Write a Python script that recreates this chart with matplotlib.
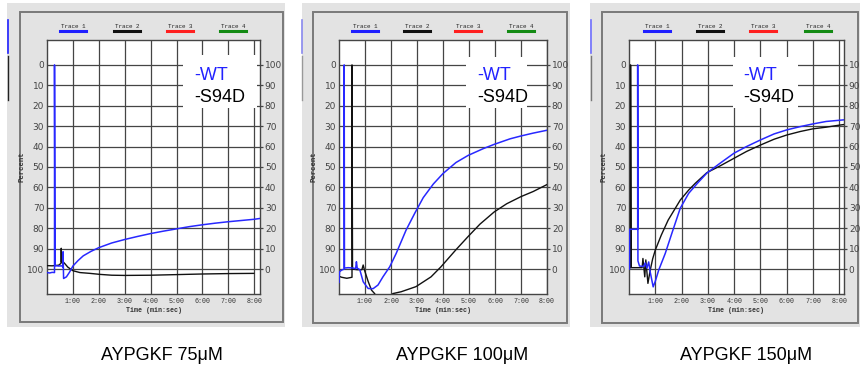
import matplotlib
matplotlib.use("Agg")
import matplotlib.pyplot as plt
from matplotlib.patches import Rectangle
from matplotlib.lines import Line2D

W, H = 860, 369

# ---- data (time in min, left axis Percent) ----
titles = ["AYPGKF 75\u03bcM", "AYPGKF 100\u03bcM", "AYPGKF 150\u03bcM"]
series_names = ["-WT", "-S94D"]
trace_names = ["Trace 1", "Trace 2", "Trace 3", "Trace 4"]
trace_colors = ["#2020ff", "#111111", "#ff2020", "#138a13"]
x_ticks = [1, 2, 3, 4, 5, 6, 7, 8]
x_tick_labels = ["1:00", "2:00", "3:00", "4:00", "5:00", "6:00", "7:00", "8:00"]
y_ticks = [0, 10, 20, 30, 40, 50, 60, 70, 80, 90, 100]

wt_75_t = [0, 0.1, 0.2, 0.29, 0.29, 0.31, 0.45, 0.58, 0.61, 0.62, 0.64, 0.75, 0.87,
           1.0, 1.2, 1.4, 1.7, 2.0, 2.5, 3.0, 3.5, 4.0, 4.5, 5.0, 5.5, 6.0, 6.5,
           7.0, 7.5, 8.0, 8.22]
wt_75_v = [101.7, 101.9, 101.6, 101.7, 0, 98.3, 98.5, 98.4, 99, 91.5, 104.6, 103.8, 101.5,
           98.5, 95.8, 93.5, 91.3, 89.5, 87.2, 85.5, 84, 82.6, 81.4, 80.3, 79.2, 78.3, 77.5,
           76.8, 76.2, 75.6, 75.2]
s94d_75_t = [0, 0.2, 0.45, 0.54, 0.55, 0.56, 0.62, 0.7, 0.8, 1.0, 1.27, 1.66, 2.05, 2.5,
             3.0, 4.0, 5.0, 6.0, 7.0, 7.98]
s94d_75_v = [98.3, 98.4, 98.1, 97.2, 89.8, 96.5, 96.4, 97.5, 99, 100.8, 101.7, 102.1, 102.6,
             103, 103.1, 103, 102.7, 102.4, 102.2, 102.1]

wt_100_t = [0, 0.02, 0.1, 0.2, 0.2, 0.21, 0.35, 0.55, 0.64, 0.67, 0.7, 0.8, 0.93, 1.12,
            1.31, 1.5, 1.69, 1.95, 2.2, 2.39, 2.58, 2.92, 3.24, 3.63, 4.0, 4.5, 4.97,
            5.55, 5.97, 6.58, 7.0, 7.47, 8.0]
wt_100_v = [106.5, 101.3, 100.5, 100, 0, 99.5, 99.3, 99.5, 99.8, 96.4, 99.5, 100.3, 106.2, 109.5,
            109.6, 107.8, 103.8, 98.9, 92.3, 86.6, 80.9, 72.5, 65, 58.3, 53.2, 47.8, 44.3,
            41, 38.9, 36.2, 34.8, 33.4, 32]
s94d_100_t = [0, 0.1, 0.3, 0.5, 0.5, 0.52, 0.7, 0.88, 0.93, 0.98, 1.12, 1.25, 1.37, 1.45,
              2.0, 2.07, 2.39, 2.96, 3.54, 3.92, 4.5, 4.97, 5.42, 5.97, 6.45, 7.0, 7.47, 8.0]
s94d_100_v = [103.5, 104, 104.5, 104, 0, 100, 100.3, 100.3, 98, 100.5, 106, 110.3, 112, 114,
              114, 112, 111.1, 108.6, 103.8, 98.9, 90.5, 84, 78, 72, 68, 64.5, 62, 58.6]

wt_150_t = [0, 0.02, 0.02, 0.33, 0.33, 0.34, 0.4, 0.55, 0.62, 0.68, 0.75, 0.8, 0.92, 1.0,
            1.13, 1.38, 1.63, 1.95, 2.27, 2.6, 2.96, 3.46, 4.0, 4.47, 5.01, 5.52, 6.01,
            6.52, 7.0, 7.5, 8.18]
wt_150_v = [100, 100, 80.5, 80.5, 0, 96, 98.5, 98.7, 97, 99.5, 96.5, 101, 108.7, 106,
            100.5, 92.3, 82.5, 70.2, 62.9, 58, 53, 48.2, 43.2, 40, 36.7, 33.8, 31.8,
            30.2, 28.9, 27.7, 26.9]
s94d_150_t = [0, 0.06, 0.06, 0.08, 0.5, 0.53, 0.6, 0.64, 0.72, 0.8, 0.9, 1.0, 1.23, 1.49,
              1.95, 2.27, 2.52, 2.96, 3.46, 4.0, 4.47, 5.01, 5.52, 6.01, 6.52, 7.0, 7.5,
              8.0, 8.18]
s94d_150_v = [99.3, 99.3, 0, 99.3, 99.3, 94.8, 103.8, 95.5, 107, 101, 95, 90.7, 83.3, 76,
              66.2, 61.3, 58, 52.8, 49.5, 45.7, 42.4, 39.2, 36.4, 34.3, 32.6, 31.3, 30.5,
              29.5, 29.2]

# ---- layout in pixels (left, top, right, bottom) ----
panels = [
    dict(bg=(7, 3, 285, 327), frame=(20, 12, 283, 322), ax=(47, 40, 260, 294), xmax=8.22,
         box=(183, 55, 257, 108), txt_x=194, legend_x=[73, 127, 180, 233], title_x=162,
         wt=(wt_75_t, wt_75_v), s94d=(s94d_75_t, s94d_75_v)),
    dict(bg=(302, 3, 570, 327), frame=(313, 12, 567, 323), ax=(339, 40, 547, 294), xmax=8.0,
         box=(466, 57, 527, 108), txt_x=477, legend_x=[365, 417, 468, 521], title_x=462,
         wt=(wt_100_t, wt_100_v), s94d=(s94d_100_t, s94d_100_v)),
    dict(bg=(590, 3, 860, 327), frame=(602, 12, 858, 323), ax=(629, 40, 844, 294), xmax=8.18,
         box=(733, 57, 798, 108), txt_x=743, legend_x=[657, 710, 763, 818], title_x=746,
         wt=(wt_150_t, wt_150_v), s94d=(s94d_150_t, s94d_150_v)),
]

GRID = "#454545"
MONO = "Liberation Mono"


def fx(x):
    return x / W


def fy(y):
    return 1 - y / H


def px_rect(box, **kw):
    x0, y0, x1, y1 = box
    return Rectangle((fx(x0), fy(y1)), fx(x1 - x0), (y1 - y0) / H,
                     transform=fig.transFigure, **kw)


fig = plt.figure(figsize=(W / 100, H / 100), dpi=100)
fig.patch.set_facecolor("white")

for i, p in enumerate(panels):
    fig.add_artist(px_rect(p["bg"], facecolor="#e3e3e3", edgecolor="none", zorder=-5))
    fig.add_artist(px_rect(p["frame"], facecolor="none", edgecolor="#7a7a7a", lw=1.4, zorder=-4))

    x0, y0, x1, y1 = p["ax"]
    ax = fig.add_axes([fx(x0), fy(y1), fx(x1 - x0), (y1 - y0) / H])
    ax.set_facecolor("white")
    ax.set_xlim(0, p["xmax"])
    ax.set_ylim(112.2, -12.2)

    # grid drawn by hand so the 8:00 line also shows in every panel
    for xt in x_ticks:
        ax.axvline(xt, color=GRID, lw=0.9, zorder=1)
    for yt in y_ticks:
        ax.axhline(yt, color=GRID, lw=0.9, zorder=1)

    ax.plot(p["s94d"][0], p["s94d"][1], color="#111111", lw=1.0, zorder=3)
    ax.plot(p["wt"][0], p["wt"][1], color="#2828ff", lw=1.1, zorder=4)

    ax.set_xticks(x_ticks)
    ax.set_xticklabels(x_tick_labels, fontsize=4.8, family=MONO, color="#333333")
    ax.set_yticks(y_ticks)
    ax.set_yticklabels([str(v) for v in y_ticks], fontsize=6.5, color="#444444")
    ax.tick_params(axis="both", length=0, pad=2)
    ax.tick_params(axis="x", pad=3)
    for s in ax.spines.values():
        s.set_color(GRID)
        s.set_linewidth(1.0)

    ax.set_xlabel("Time (min:sec)", fontsize=4.8, family=MONO, fontweight="bold",
                  color="#333333", labelpad=1.5)
    ax.set_ylabel("Percent", fontsize=5.2, family=MONO, fontweight="bold",
                  color="#333333", labelpad=1)

    ax2 = ax.twinx()
    ax2.set_ylim(100 - 112.2, 100 + 12.2)
    ax2.set_yticks(y_ticks)
    ax2.set_yticklabels([str(v) for v in y_ticks], fontsize=6.5, color="#444444")
    ax2.tick_params(axis="y", length=2.5, width=0.9, color=GRID, pad=1)
    for s in ax2.spines.values():
        s.set_visible(False)

    # trace legend on top
    for name, col, cx in zip(trace_names, trace_colors, p["legend_x"]):
        fig.text(fx(cx), fy(26), name, fontsize=4.2, family=MONO, color="#222222",
                 ha="center", va="center")
        fig.add_artist(Line2D([fx(cx - 13), fx(cx + 13)], [fy(31), fy(31)],
                              color=col, lw=2.2, transform=fig.transFigure))

    # white label box
    fig.add_artist(px_rect(p["box"], facecolor="white", edgecolor="none", zorder=10))
    fig.text(fx(p["txt_x"]), fy(76), series_names[0], fontsize=13, family="Liberation Sans",
             color="#2222ff", ha="left", va="center", zorder=11)
    fig.text(fx(p["txt_x"]), fy(98), series_names[1], fontsize=13, family="Liberation Sans",
             color="black", ha="left", va="center", zorder=11)

    fig.text(fx(p["title_x"]), fy(356), titles[i], fontsize=13, family="Liberation Sans",
             color="black", ha="center", va="center")

# leftover slivers of neighbouring traces at the panel edges
for xe, c1, c2 in [(8, "#2020ff", "#222222"), (302, "#8888ee", "#999999"), (591, "#6f6fff", "#777777")]:
    fig.add_artist(Line2D([fx(xe), fx(xe)], [fy(20), fy(53)], color=c1, lw=1.2,
                          transform=fig.transFigure))
    fig.add_artist(Line2D([fx(xe), fx(xe)], [fy(56), fy(100)], color=c2, lw=1.0,
                          transform=fig.transFigure))

fig.savefig("out.png", dpi=100)
